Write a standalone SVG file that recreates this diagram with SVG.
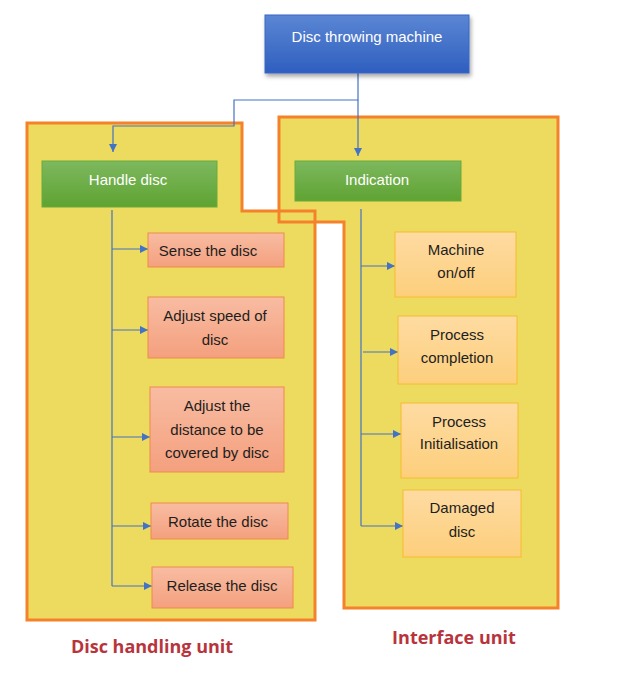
<svg xmlns="http://www.w3.org/2000/svg" width="627" height="680" viewBox="0 0 627 680">
<defs>
<linearGradient id="gBlue" x1="0" y1="0" x2="0" y2="1"><stop offset="0" stop-color="#5b86d4"/><stop offset="1" stop-color="#2f5fbf"/></linearGradient>
<linearGradient id="gGreen" x1="0" y1="0" x2="0" y2="1"><stop offset="0" stop-color="#7db85e"/><stop offset="1" stop-color="#5fa332"/></linearGradient>
<linearGradient id="gSalmon" x1="0" y1="0" x2="0" y2="1"><stop offset="0" stop-color="#f8bca2"/><stop offset="1" stop-color="#f4a07e"/></linearGradient>
<linearGradient id="gPeach" x1="0" y1="0" x2="0" y2="1"><stop offset="0" stop-color="#fedba2"/><stop offset="1" stop-color="#fdcf7c"/></linearGradient>
<filter id="shadow" x="-10%" y="-10%" width="125%" height="140%"><feDropShadow dx="1.5" dy="3" stdDeviation="2" flood-color="#000" flood-opacity="0.35"/></filter>
<marker id="arr" viewBox="0 0 10 10" refX="10" refY="5" markerWidth="8" markerHeight="8" markerUnits="userSpaceOnUse" orient="auto"><path d="M0,0 L10,5 L0,10 z" fill="#4472c4"/></marker>
</defs>
<style>
.cont{fill:#ecdb5e;stroke:none}
.contS{fill:none;stroke:#f5822a;stroke-width:3}
.green{fill:url(#gGreen);stroke:#6aab3a;stroke-width:1}
.salmon{fill:url(#gSalmon);stroke:#f08a4b;stroke-width:1}
.peach{fill:url(#gPeach);stroke:#f7bc2e;stroke-width:1}
.w{font-family:"Liberation Sans",Arial,sans-serif;font-size:15px;fill:#fff;text-anchor:middle;dominant-baseline:central}
.t{font-family:"Liberation Sans",Arial,sans-serif;font-size:15px;fill:#1e1e1e;text-anchor:middle;dominant-baseline:central}
.lab{font-family:"Open Sans","Liberation Sans",sans-serif;font-size:18px;font-weight:bold;fill:#b8343c;text-anchor:middle}
.c{fill:none;stroke:#4472c4;stroke-width:1.2}
</style>
<g id="containers">
<polygon class="cont" points="27,123 242,123 242,211 315,211 315,620 27,620"/>
<polygon class="cont" points="279,117 558,117 558,608 344,608 344,222 279,222"/>
<polygon class="contS" points="27,123 242,123 242,211 315,211 315,620 27,620"/>
<polygon class="contS" points="279,117 558,117 558,608 344,608 344,222 279,222"/>
</g>
<g id="connectors">
<polyline class="c" points="358,73 358,100 234,100 234,126 113,126 113,152" marker-end="url(#arr)"/>
<line class="c" x1="358" y1="100" x2="358" y2="156" marker-end="url(#arr)"/>
<line class="c" x1="112" y1="210" x2="112" y2="586"/>
<line class="c" x1="112" y1="249" x2="148" y2="249" marker-end="url(#arr)"/>
<line class="c" x1="112" y1="330" x2="148" y2="330" marker-end="url(#arr)"/>
<line class="c" x1="112" y1="437" x2="150" y2="437" marker-end="url(#arr)"/>
<line class="c" x1="112" y1="526" x2="151" y2="526" marker-end="url(#arr)"/>
<line class="c" x1="112" y1="586" x2="152" y2="586" marker-end="url(#arr)"/>
<line class="c" x1="361" y1="209" x2="361" y2="526"/>
<line class="c" x1="361" y1="266" x2="395" y2="266" marker-end="url(#arr)"/>
<line class="c" x1="363" y1="352" x2="398" y2="352" marker-end="url(#arr)"/>
<line class="c" x1="361" y1="434" x2="401" y2="434" marker-end="url(#arr)"/>
<line class="c" x1="361" y1="526" x2="403" y2="526" marker-end="url(#arr)"/>
</g>
<g id="n-top"><rect x="265" y="15" width="204" height="58" fill="url(#gBlue)" stroke="#3a66c4" stroke-width="1" filter="url(#shadow)"/><text class="w" x="367" y="36">Disc throwing machine</text></g>
<g id="n-handle"><rect class="green" x="42" y="161" width="175" height="46"/><text class="w" x="128" y="179">Handle disc</text></g>
<g id="n-indication"><rect class="green" x="295" y="161" width="166" height="40"/><text class="w" x="377" y="179">Indication</text></g>
<g id="n-sense"><rect class="salmon" x="148" y="233" width="136" height="34"/><text class="t" x="208" y="250">Sense the disc</text></g>
<g id="n-speed"><rect class="salmon" x="148" y="297" width="136" height="61"/><text class="t" x="215" y="315">Adjust speed of</text><text class="t" x="215" y="339">disc</text></g>
<g id="n-distance"><rect class="salmon" x="150" y="387" width="134" height="85"/><text class="t" x="217" y="405">Adjust the</text><text class="t" x="217" y="429">distance to be</text><text class="t" x="217" y="452">covered by disc</text></g>
<g id="n-rotate"><rect class="salmon" x="151" y="503" width="137" height="36"/><text class="t" x="218" y="521">Rotate the disc</text></g>
<g id="n-release"><rect class="salmon" x="152" y="567" width="141" height="41"/><text class="t" x="222" y="585">Release the disc</text></g>
<g id="n-onoff"><rect class="peach" x="395" y="232" width="121" height="65"/><text class="t" x="456" y="249">Machine</text><text class="t" x="456" y="272">on/off</text></g>
<g id="n-completion"><rect class="peach" x="398" y="316" width="119" height="68"/><text class="t" x="457" y="334">Process</text><text class="t" x="457" y="357">completion</text></g>
<g id="n-init"><rect class="peach" x="401" y="403" width="117" height="75"/><text class="t" x="459" y="421">Process</text><text class="t" x="459" y="443">Initialisation</text></g>
<g id="n-damaged"><rect class="peach" x="403" y="490" width="118" height="67"/><text class="t" x="462" y="507">Damaged</text><text class="t" x="462" y="531">disc</text></g>
<g id="labels">
<text class="lab" x="152" y="653">Disc handling unit</text>
<text class="lab" x="454" y="644">Interface unit</text>
</g>
</svg>
